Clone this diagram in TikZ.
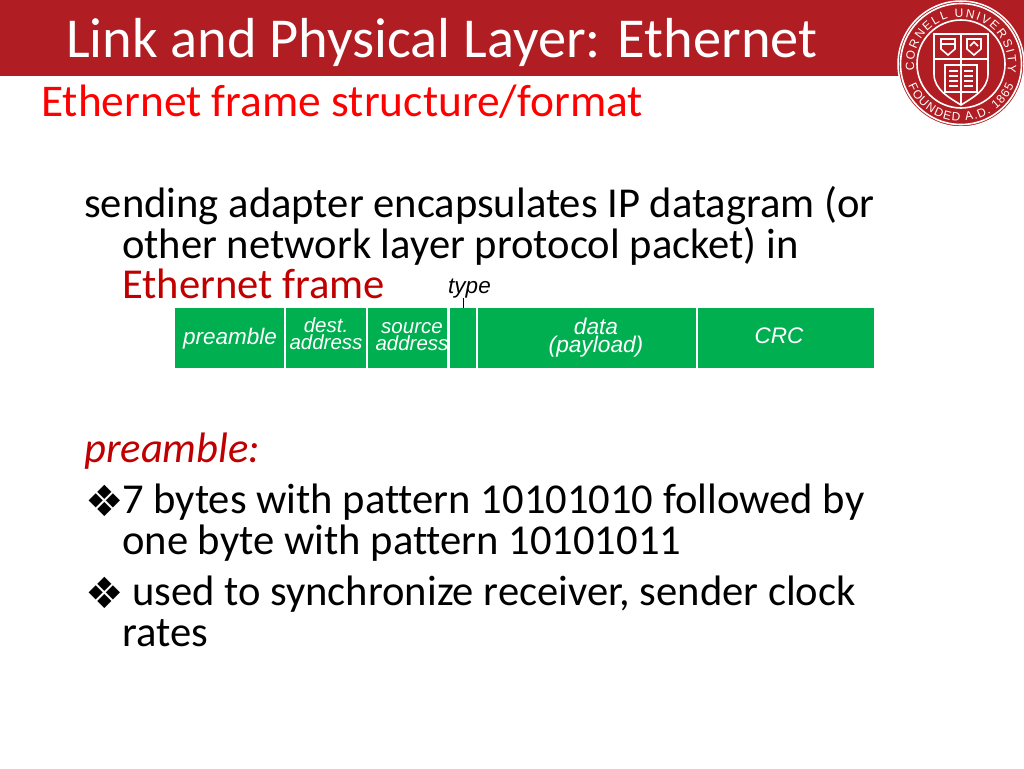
\documentclass[tikz,border=0pt]{standalone}
\usepackage{fontspec}
\setmainfont[Ligatures=NoCommon]{Carlito}
\newfontfamily\framefont{Liberation Sans}
\newfontfamily\symfont{DejaVu Sans}
\usetikzlibrary{decorations.text}
\definecolor{barred}{HTML}{B01E23}
\definecolor{darkred}{HTML}{C00000}
\definecolor{framegreen}{HTML}{00B050}

\begin{document}
\begin{tikzpicture}[x=1pt,y=1pt]
  \tikzstyle{txt}=[anchor=base west,inner sep=0pt,font=\fontsize{42.6}{42.6}\selectfont]
  \tikzstyle{field}=[fill=framegreen,inner sep=0pt,minimum height=60pt]
  \tikzstyle{fieldtxt}=[inner sep=0pt,text=white,align=center,font=\framefont\itshape\fontsize{20.5}{17}\selectfont]
  \tikzstyle{bullet}=[anchor=base west,inner sep=0pt,font=\symfont\fontsize{43}{43}\selectfont]
  \tikzstyle{seal}=[white,line width=1.6pt]
\useasboundingbox (0,0) rectangle (1024,-768);
\fill[white] (0,0) rectangle (1024,-768);
\fill[barred] (0,0) rectangle (1024,-76);
% heading
\node[txt,white,font=\fontsize{56.4}{56.4}\selectfont] (title) at (66,-57) {Link and Physical Layer: Ethernet};
\node[txt,red,font=\fontsize{45.4}{45.4}\selectfont] (subtitle) at (41,-116) {Ethernet frame structure/format};
% seal
\fill[barred,draw=white,line width=1.5pt] (961,-64) circle (63);
\draw[seal] (961,-64) circle (60.5);
\draw[seal] (961,-64) circle (44);
\path[postaction={decorate,decoration={text along path,text align=fit to path,text={|\framefont\fontsize{12}{12}\selectfont\color{white}|CORNELL UNIVERSITY}}}]
  (961,-64) ++(188:47) arc (188:-10:47);
\path[postaction={decorate,decoration={text along path,text align=fit to path,text={|\framefont\fontsize{12}{12}\selectfont\color{white}|FOUNDED A.D. 1865}}}]
  (961,-64) ++(202:57) arc (202:338:57);
\draw[seal] (934,-34) -- (988,-34) -- (988,-74) .. controls (988,-90) and (972,-98) .. (961,-105)
  .. controls (950,-98) and (934,-90) .. (934,-74) -- cycle;
\draw[seal] (934,-59) -- (988,-59);
\draw[seal] (961,-34) -- (961,-105);
\draw[seal] (941,-39) -- (955,-39) -- (955,-49) -- (948,-55) -- (941,-49) -- cycle;
\draw[seal] (941,-44) -- (955,-44);
\draw[seal] (967,-39) -- (981,-39) -- (981,-49) -- (974,-55) -- (967,-49) -- cycle;
\draw[seal] (970,-46) -- (974,-42) -- (978,-46);
\draw[seal] (945,-65) rectangle (977,-92);
\foreach \y in {-71,-76,-81,-86} {
  \draw[white,line width=1.2pt] (949,\y) -- (958,\y);
  \draw[white,line width=1.2pt] (964,\y) -- (973,\y);
}
% body text
\node[txt] (send1) at (84,-217) {sending adapter encapsulates IP datagram (or};
\node[txt] (send2) at (122,-258) {other network layer protocol packet) in};
\node[txt,darkred] (send3) at (122,-298.5) {Ethernet frame};
% frame
\node[field,minimum width=109pt] (preamble) at (229.5,-338) {};
\node[field,minimum width=80pt] (dest) at (326,-338) {};
\node[field,minimum width=79pt] (source) at (407.5,-338) {};
\node[field,minimum width=26pt] (typefield) at (463,-338) {};
\node[field,minimum width=218pt] (data) at (587,-338) {};
\node[field,minimum width=176pt] (crc) at (786,-338) {};
\node[fieldtxt,font=\framefont\itshape\fontsize{22.5}{17}\selectfont] (preambletxt) at (230,-339) {preamble};
\node[fieldtxt] (desttxt) at (326,-334) {dest.\\address};
\node[fieldtxt] (sourcetxt) at (412,-337) {source\\address};
\node[fieldtxt,font=\framefont\itshape\fontsize{22.7}{18}\selectfont] (datatxt) at (596,-338) {data\\(payload)};
\node[fieldtxt,font=\framefont\itshape\fontsize{22.5}{17}\selectfont] (crctxt) at (779,-336) {CRC};
\node[anchor=base,inner sep=0pt,font=\framefont\itshape\fontsize{22.5}{22.5}\selectfont] (typelabel) at (469.5,-293.5) {type};
\draw[line width=0.5pt] (typelabel.south -| typefield.north) -- (typefield.north);
% preamble notes
\node[txt,darkred,font=\itshape\fontsize{42.6}{42.6}\selectfont] (head) at (84,-462) {preamble:};
\node[bullet] (mark1) at (85,-516) {❖};
\node[txt] (bytes1) at (122,-513.5) {7 bytes with pattern 10101010 followed by};
\node[txt] (bytes2) at (122,-554.5) {one byte with pattern 10101011};
\node[bullet] (mark2) at (85,-608) {❖};
\node[txt] (sync1) at (132,-605.5) {used to synchronize receiver, sender clock};
\node[txt] (sync2) at (122,-646) {rates};
\end{tikzpicture}
\end{document}
